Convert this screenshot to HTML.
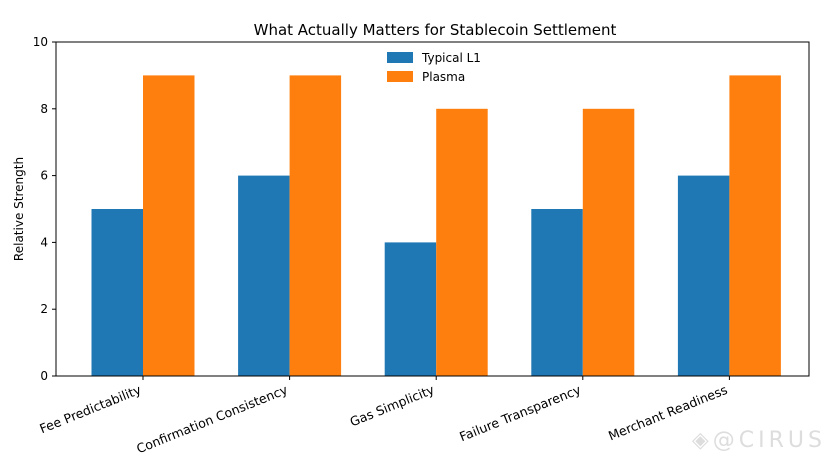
<!DOCTYPE html>
<html><head><meta charset="utf-8"><style>
body{margin:0;background:#fff;width:828px;height:466px;overflow:hidden;font-family:"DejaVu Sans","Liberation Sans",sans-serif}
</style></head><body>
<svg id="chart" width="828" height="466" xmlns="http://www.w3.org/2000/svg">
<text x="435" y="35" font-size="15" text-anchor="middle" fill="#000">What Actually Matters for Stablecoin Settlement</text>
<text transform="translate(23,209) rotate(-90)" font-size="12" text-anchor="middle">Relative Strength</text>
<g id="bars"></g>
<g id="axes"></g>
<g>
<rect x="387" y="52" width="26" height="11" fill="#1f77b4"/>
<text x="422" y="62" font-size="12">Typical L1</text>
<rect x="387" y="71" width="26" height="11" fill="#ff7f0e"/>
<text x="422" y="81" font-size="12">Plasma</text>
</g>
<text x="826" y="447" font-size="22" text-anchor="end" fill="#ddd" letter-spacing="4">◈@CIRUS</text>
</svg>
<script>
const categories=["Fee Predictability","Confirmation Consistency","Gas Simplicity","Failure Transparency","Merchant Readiness"];
const typicalL1=[5,6,4,5,6];
const plasma=[9,9,8,8,9];
const yTicks=[0,2,4,6,8,10];
const NS="http://www.w3.org/2000/svg";
const L=56,R=809,T=42,B=376;
function y(v){return B-(v/10)*(B-T);}
function xc(i){return 143+146.6*i;}
const bw=51.5;
function mk(tag,attrs,parent){const e=document.createElementNS(NS,tag);for(const k in attrs)e.setAttribute(k,attrs[k]);parent.appendChild(e);return e;}
const bars=document.getElementById('bars'),axes=document.getElementById('axes');
categories.forEach((c,i)=>{
 const b1=mk('rect',{x:xc(i)-bw,y:y(typicalL1[i]),width:bw,height:B-y(typicalL1[i]),fill:'#1f77b4'},bars);
 
 
 const b2=mk('rect',{x:xc(i),y:y(plasma[i]),width:bw,height:B-y(plasma[i]),fill:'#ff7f0e'},bars);
 
 
 mk('line',{x1:xc(i),x2:xc(i),y1:B,y2:B+4,stroke:'#000'},axes);
 const t=mk('text',{transform:`translate(${xc(i)-1},${B+17}) rotate(-22)`,'font-size':12.6,'text-anchor':'end'},axes);
 t.textContent=c;
 
 
});
yTicks.forEach(v=>{
 mk('line',{x1:L-4,x2:L,y1:y(v),y2:y(v),stroke:'#000'},axes);
 const t=mk('text',{x:L-8,y:y(v)+4,'font-size':12,'text-anchor':'end'},axes);
 t.textContent=v;
 
 
});
const f=mk('rect',{x:L,y:T,width:R-L,height:B-T,fill:'none',stroke:'#000','stroke-width':1},axes);


</script>
</body></html>
